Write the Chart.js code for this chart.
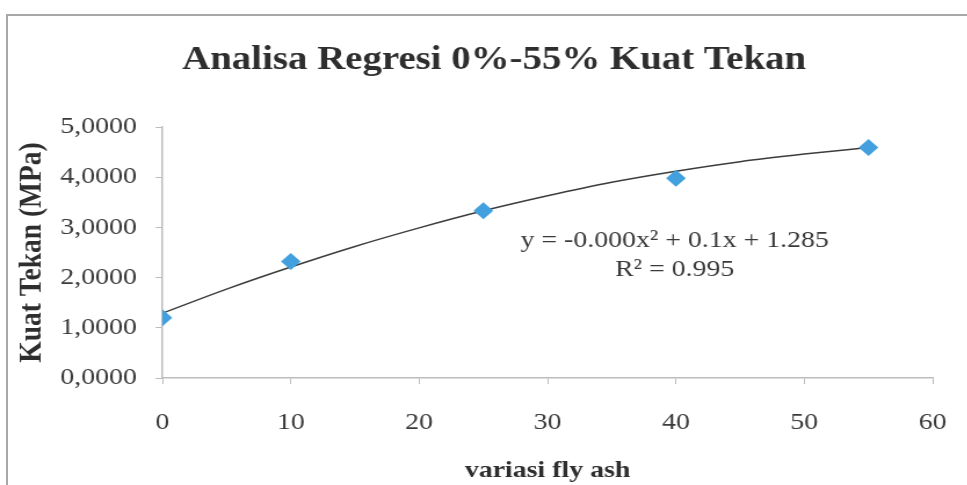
<!DOCTYPE html>
<html>
<head>
<meta charset="utf-8">
<script src="https://cdn.jsdelivr.net/npm/chart.js@4"></script>
<style>
  html, body { margin: 0; padding: 0; background: #fff; }
  #wrap { position: relative; width: 967px; height: 485px; overflow: hidden; }
  #frame { position: absolute; left: 6px; top: 14px; right: -4px; bottom: -4px;
           border-top: 2px solid #a8a8a8; border-left: 2px solid #a8a8a8; }
  /* the source picture is a scan stretched sideways, so the chart is drawn
     narrower and widened the same way */
  canvas { position: absolute; left: 0; top: 0; transform: scaleX(1.16); transform-origin: 0 0; }
</style>
</head>
<body>
<div id="wrap">
  <div id="frame"></div>
  <canvas id="c" width="834" height="485"></canvas>
</div>
<script>
// measured points (variasi fly ash %, kuat tekan MPa)
var flyAsh   = [0, 10, 25, 40, 55];
var kuatTkn  = [1.20, 2.32, 3.33, 3.98, 4.59];

// polynomial trendline
var trendX   = [0, 5, 10, 15, 20, 25, 30, 35, 40, 45, 50, 55];
var trendY   = [1.29, 1.77, 2.21, 2.62, 2.99, 3.33, 3.63, 3.90, 4.12, 4.31, 4.46, 4.59];

var titleText = "Analisa Regresi 0%-55% Kuat Tekan";
var eqnLines  = ["y = -0.000x\u00b2 + 0.1x + 1.285", "R\u00b2 = 0.995"];

var serif = "'Liberation Serif', 'Times New Roman', serif";
var ink   = "#3a3a3a";
var axis  = "#bcbcbc";

function pts(xs, ys) {
  return xs.map(function (x, i) { return { x: x, y: ys[i] }; });
}

// chart title (the Excel one is not centred on the canvas, so drawn by hand)
// and the trendline equation, placed in data units
var labels = {
  id: "labels",
  afterDatasetsDraw: function (chart) {
    var ctx = chart.ctx, sx = chart.scales.x, sy = chart.scales.y;
    ctx.save();
    ctx.textAlign = "center";
    ctx.textBaseline = "middle";

    ctx.fillStyle = "#2e2e2e";
    ctx.font = "bold 33.5px " + serif;
    ctx.fillText(titleText, 426, 60);

    var cx = sx.getPixelForValue(39.9);
    ctx.fillStyle = ink;
    ctx.font = "24px " + serif;
    ctx.fillText(eqnLines[0], cx, sy.getPixelForValue(2.73));
    ctx.fillText(eqnLines[1], cx, sy.getPixelForValue(2.15));
    ctx.restore();
  }
};

new Chart(document.getElementById("c"), {
  type: "scatter",
  data: {
    datasets: [{
      label: "trend",
      type: "line",
      data: pts(trendX, trendY),
      borderColor: "#3c3c3c",
      borderWidth: 1.5,
      pointRadius: 0,
      fill: false,
      cubicInterpolationMode: "monotone",
      order: 2
    }, {
      label: "Kuat Tekan",
      data: pts(flyAsh, kuatTkn),
      pointStyle: "rectRot",
      pointRadius: 8.5,
      backgroundColor: "#41a0dd",
      borderColor: "#41a0dd",
      borderWidth: 0,
      order: 1
    }]
  },
  plugins: [labels],
  options: {
    responsive: false,
    animation: false,
    events: [],
    layout: { padding: { left: 0, right: 30, top: 127, bottom: 0 } },
    plugins: {
      legend: { display: false },
      tooltip: { enabled: false },
      title: { display: false }
    },
    scales: {
      x: {
        type: "linear",
        min: 0, max: 60,
        afterFit: function (s) { s.height = 107; s.paddingLeft = 0; s.paddingRight = 0; },
        ticks: { stepSize: 10, color: ink, padding: 24, font: { family: serif, size: 24 } },
        grid: { drawOnChartArea: false, drawTicks: true, tickLength: 6, color: axis },
        border: { color: axis, width: 1.5 },
        title: {
          display: true, text: "variasi fly ash", color: "#2e2e2e",
          font: { family: serif, size: 24, weight: "bold" },
          padding: { top: 0, bottom: 0 }
        }
      },
      y: {
        min: 0, max: 5,
        afterFit: function (s) { s.width = 140; },
        ticks: {
          stepSize: 1, color: ink, padding: 16,
          font: { family: serif, size: 24 },
          callback: function (v) { return v.toFixed(4).replace(".", ","); }
        },
        grid: { drawOnChartArea: false, drawTicks: true, tickLength: 6, color: axis },
        border: { color: axis, width: 1.5 },
        title: {
          display: true, text: "Kuat Tekan (MPa)", color: "#2e2e2e",
          font: { family: serif, size: 27.5, weight: "bold" },
          padding: { top: 11, bottom: 0 }
        }
      }
    }
  }
});
</script>
</body>
</html>
